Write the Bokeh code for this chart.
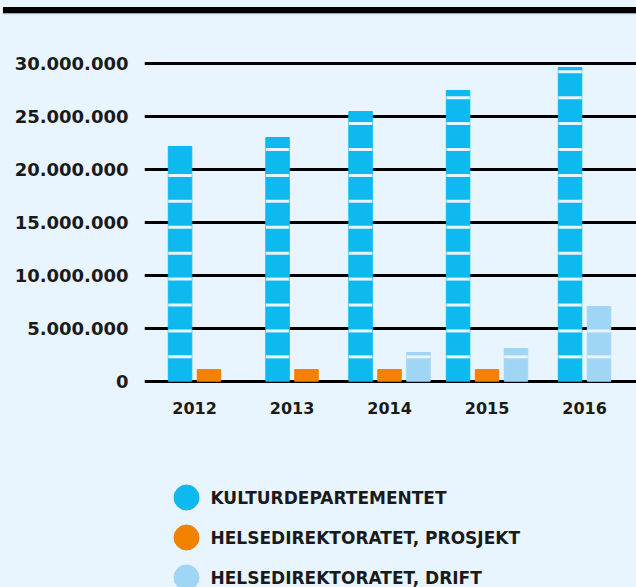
from bokeh.plotting import figure
from bokeh.layouts import column
from bokeh.models import FixedTicker, Range1d, ColumnDataSource, Div
from bokeh.core.properties import value
from bokeh.embed import file_html
from bokeh.resources import INLINE

# ---------------- data ----------------
years = ["2012", "2013", "2014", "2015", "2016"]
series_names = ["KULTURDEPARTEMENTET", "HELSEDIREKTORATET, PROSJEKT", "HELSEDIREKTORATET, DRIFT"]
kulturdepartementet = [22_180_000, 23_030_000, 25_490_000, 27_480_000, 29_650_000]
helse_prosjekt = [1_100_000, 1_100_000, 1_100_000, 1_100_000, 0]
helse_drift = [0, 0, 2_710_000, 3_090_000, 7_060_000]
y_ticks = [0, 5_000_000, 10_000_000, 15_000_000, 20_000_000, 25_000_000, 30_000_000]

# ---------------- style ----------------
BG = "#E9F5FE"
COLORS = ["#0DB9EE", "#F08200", "#A0D6F5"]
TEXT = "#1A1A1A"
FONT = "DejaVu Sans"
BAR_W = 0.241
PITCH = 0.297
STRIPE_STEP = 2_450_000
STRIPE_OFFSET = 150_000
STRIPE_MIN_GAP = 300_000
W = 636
H = 587
TOP_H = 20          # height of the rule strip above the chart
FRAME_LEFT = 144
FRAME_TOP = 40      # page y of the frame top
ZERO_Y = 380.7      # page y of value 0
PX_PER_UNIT = 10.58 / 1_000_000

series = [kulturdepartementet, helse_prosjekt, helse_drift]

# ---------------- top rule ----------------
rule = Div(width=W, height=TOP_H, margin=0,
           text='<div style="margin:7px 0 0 3px;width:633px;height:6px;background:#000;'
                'box-shadow:0 1px 1px #9aa7b0;"></div>',
           styles={"background-color": BG})

# ---------------- chart ----------------
y0 = -(H - ZERO_Y) / PX_PER_UNIT
y1 = (ZERO_Y - FRAME_TOP) / PX_PER_UNIT

p = figure(width=W, height=H - TOP_H, output_backend="svg", toolbar_location=None,
           x_range=Range1d(-0.513, 4.533), y_range=Range1d(y0, y1),
           min_border_left=FRAME_LEFT, min_border_right=0,
           min_border_top=FRAME_TOP - TOP_H, min_border_bottom=0, margin=0)
p.background_fill_color = BG
p.border_fill_color = BG
p.outline_line_color = None

bx, btop, bcol = [], [], []
sx0, sx1, sy = [], [], []
for i in range(len(years)):
    present = [s for s in range(len(series)) if series[s][i] > 0]
    n = len(present)
    for j, s in enumerate(present):
        x = i + (j - (n - 1) / 2) * PITCH
        v = series[s][i]
        bx.append(x)
        btop.append(v)
        bcol.append(COLORS[s])
        k = 1
        while k * STRIPE_STEP - STRIPE_OFFSET < v - STRIPE_MIN_GAP:
            sx0.append(x - BAR_W / 2)
            sx1.append(x + BAR_W / 2)
            sy.append(k * STRIPE_STEP - STRIPE_OFFSET)
            k += 1

p.vbar(x="x", top="top", bottom=0, width=BAR_W, color="color",
       source=ColumnDataSource(dict(x=bx, top=btop, color=bcol)))
p.segment(x0="x0", x1="x1", y0="y", y1="y", line_color=BG, line_width=3,
          source=ColumnDataSource(dict(x0=sx0, x1=sx1, y=sy)))

p.ygrid.ticker = FixedTicker(ticks=y_ticks)
p.ygrid.grid_line_color = "black"
p.ygrid.grid_line_width = 3
p.xgrid.visible = False

p.yaxis.ticker = FixedTicker(ticks=y_ticks)
p.yaxis.major_label_overrides = {t: f"{t:,}".replace(",", ".") for t in y_ticks}
p.yaxis.axis_line_color = None
p.yaxis.major_tick_line_color = None
p.yaxis.minor_tick_line_color = None
p.yaxis.major_tick_out = 0
p.yaxis.major_tick_in = 0
p.yaxis.major_label_standoff = 16
p.yaxis.major_label_text_font = FONT
p.yaxis.major_label_text_font_size = "18px"
p.yaxis.major_label_text_font_style = "bold"
p.yaxis.major_label_text_color = TEXT

p.xaxis.ticker = FixedTicker(ticks=list(range(len(years))))
p.xaxis.major_label_overrides = {i: y for i, y in enumerate(years)}
p.xaxis.fixed_location = 0
p.xaxis.axis_line_color = None
p.xaxis.major_tick_line_color = None
p.xaxis.minor_tick_line_color = None
p.xaxis.major_tick_out = 0
p.xaxis.major_tick_in = 0
p.xaxis.major_label_standoff = 21
p.xaxis.major_label_text_font = FONT
p.xaxis.major_label_text_font_size = "16px"
p.xaxis.major_label_text_font_style = "bold"
p.xaxis.major_label_text_color = TEXT

# ---------------- legend (laid out in page pixels via extra ranges) ----------------
p.extra_x_ranges = {"px": Range1d(FRAME_LEFT, W)}
p.extra_y_ranges = {"py": Range1d(H, FRAME_TOP)}
ly = [497 + 40 * i for i in range(len(series_names))]
p.scatter(x=[186] * len(series_names), y=ly, size=25, color=COLORS, marker="circle",
          x_range_name="px", y_range_name="py")
p.text(x=[210] * len(series_names), y=ly, text=series_names, text_baseline="middle",
       text_font=value(FONT), text_font_size="17px", text_font_style="bold",
       text_color=TEXT, x_range_name="px", y_range_name="py")

layout = column(rule, p, spacing=0, margin=0, styles={"background-color": BG})
open("out.html", "w").write(file_html(layout, INLINE))
